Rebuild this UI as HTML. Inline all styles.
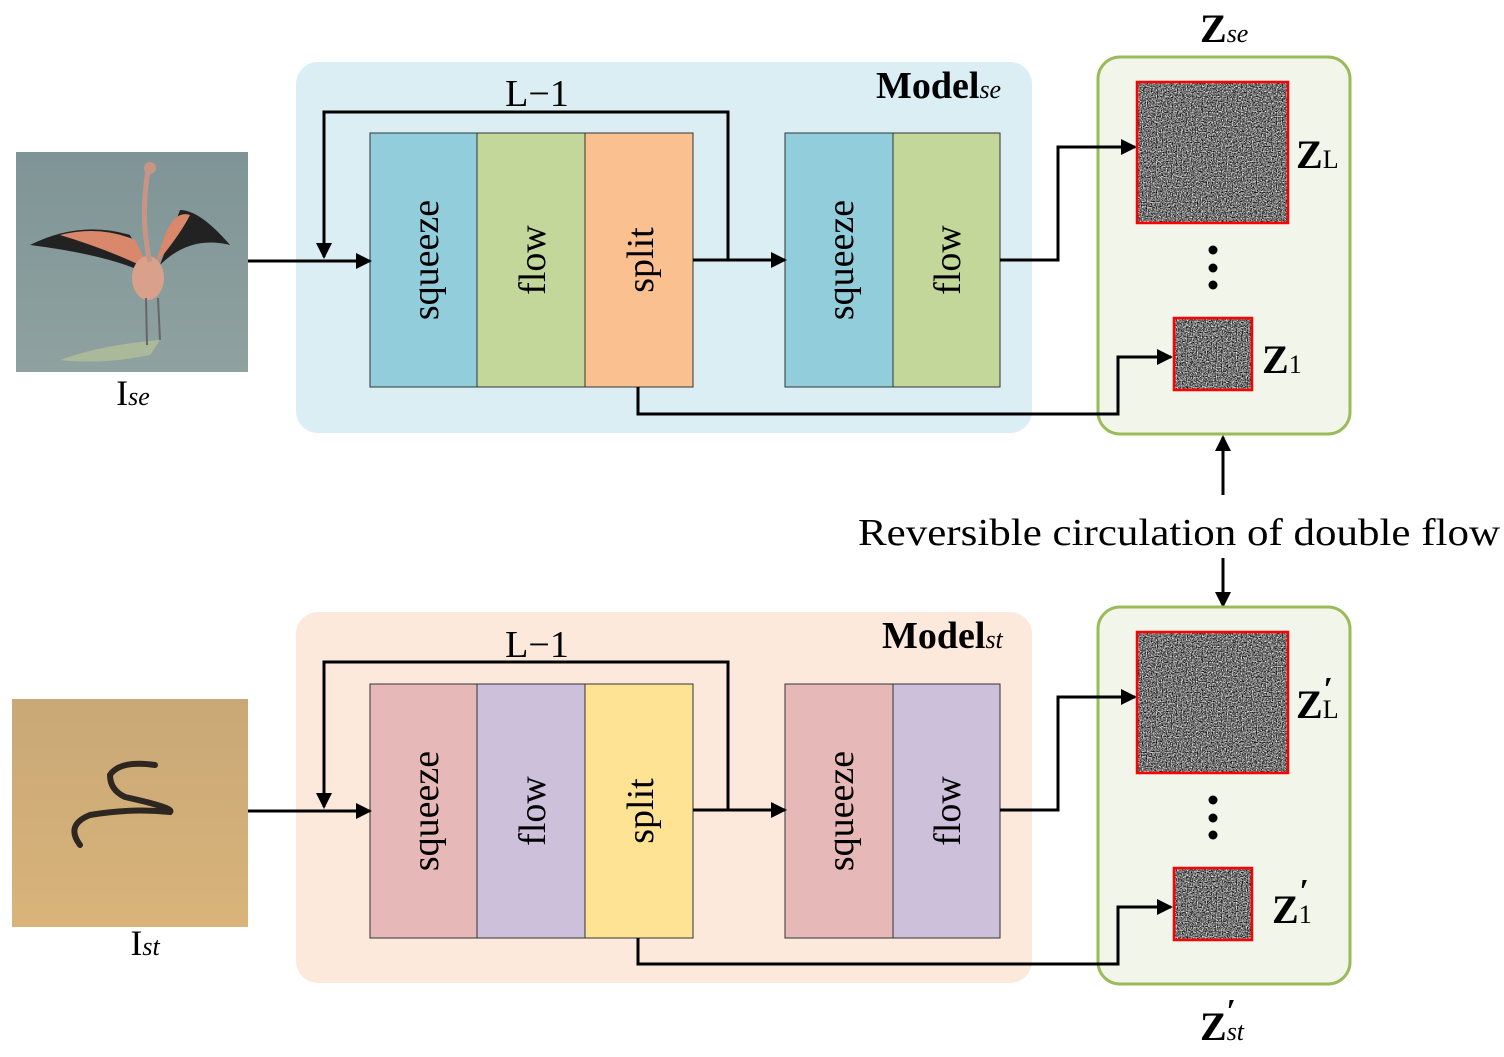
<!DOCTYPE html>
<html><head><meta charset="utf-8"><style>html,body{margin:0;padding:0;background:#fff}svg{display:block}text{font-family:"Liberation Serif",serif}</style></head><body>
<svg width="1504" height="1057" viewBox="0 0 1504 1057" xmlns="http://www.w3.org/2000/svg">
<defs>
<filter id="noise" x="0" y="0" width="100%" height="100%" color-interpolation-filters="sRGB"><feTurbulence type="fractalNoise" baseFrequency="0.8" numOctaves="2" seed="3"/><feColorMatrix type="matrix" values="1.3 1.3 0 0 -0.85  1.3 1.3 0 0 -0.85  1.3 1.3 0 0 -0.85  0 0 0 0 1"/></filter>
<marker id="ar" markerWidth="16" markerHeight="16" refX="14" refY="8" orient="auto" markerUnits="userSpaceOnUse"><path d="M0,0 L16,8 L0,16 z" fill="#000"/></marker>
<linearGradient id="sand" x1="0" y1="0" x2="0" y2="1"><stop offset="0" stop-color="#c9a877"/><stop offset="1" stop-color="#d9b47a"/></linearGradient>
<linearGradient id="water" x1="0" y1="0" x2="0" y2="1"><stop offset="0" stop-color="#7f9497"/><stop offset="1" stop-color="#8fa2a0"/></linearGradient>
</defs>

<rect x="16" y="152" width="232" height="220" fill="url(#water)"/>
<path d="M60,360 Q100,345 160,340 L150,355 Q100,365 60,360z" fill="#a9b99a"/>
<path d="M30,245 Q80,220 130,235 L150,275 Q110,255 30,245z" fill="#222"/>
<path d="M60,235 Q100,225 135,240 L150,270 Q110,250 60,235z" fill="#d9886c"/>
<path d="M230,245 Q200,210 180,210 L160,265 Q190,235 230,245z" fill="#222"/>
<path d="M190,215 Q175,210 165,235 L155,265 Q180,235 190,215z" fill="#d9886c"/>
<ellipse cx="148" cy="278" rx="16" ry="22" fill="#d9a08c"/>
<path d="M150,262 Q140,220 148,170" stroke="#c89585" stroke-width="5" fill="none"/>
<circle cx="150" cy="168" r="6" fill="#c89585"/>
<path d="M146,298 L147,345 M158,298 L160,340" stroke="#666" stroke-width="2"/>
<rect x="12" y="699" width="236" height="228" fill="url(#sand)"/>
<path d="M155,765 Q120,760 110,775 Q110,790 125,797 Q175,808 170,812 Q130,808 90,815 Q65,825 80,845" stroke="#2e2620" stroke-width="6" fill="none" stroke-linecap="round"/>
<text x="133" y="405" font-size="36" text-anchor="middle">I<tspan font-style="italic" font-size="26">se</tspan></text>
<text x="145" y="955" font-size="36" text-anchor="middle">I<tspan font-style="italic" font-size="26">st</tspan></text>

<g>
<rect x="296" y="62" width="736" height="371" rx="22" fill="#dbeef4"/>
<rect x="1098" y="57" width="252" height="377" rx="22" fill="#f1f5ea" stroke="#9bbb59" stroke-width="3"/>
<rect x="370" y="133" width="107" height="254" fill="#92cddc" stroke="#333" stroke-width="1"/>
<rect x="477" y="133" width="108" height="254" fill="#c4d79b" stroke="#333" stroke-width="1"/>
<rect x="585" y="133" width="108" height="254" fill="#fac090" stroke="#333" stroke-width="1"/>
<rect x="785" y="133" width="108" height="254" fill="#92cddc" stroke="#333" stroke-width="1"/>
<rect x="893" y="133" width="107" height="254" fill="#c4d79b" stroke="#333" stroke-width="1"/>
<g font-size="38" text-anchor="middle">
<text transform="translate(438,260) rotate(-90)">squeeze</text>
<text transform="translate(545,260) rotate(-90)">flow</text>
<text transform="translate(653,260) rotate(-90)">split</text>
<text transform="translate(853,260) rotate(-90)">squeeze</text>
<text transform="translate(960,260) rotate(-90)">flow</text>
</g>
<text x="537" y="106" font-size="38" text-anchor="middle">L−1</text>
<text x="876" y="98" font-size="38" font-weight="bold">Model<tspan font-style="italic" font-size="26" font-weight="normal">se</tspan></text>
<g stroke="#000" stroke-width="3" fill="none">
<path d="M728,260 V112 H324 V257" marker-end="url(#ar)"/>
<path d="M248,261 H370" marker-end="url(#ar)"/>
<path d="M693,260 H785" marker-end="url(#ar)"/>
<path d="M1000,260 H1058 V147 H1135" marker-end="url(#ar)"/>
<path d="M638,387 V414 H1118 V357 H1171" marker-end="url(#ar)"/>
</g>
<rect x="1137" y="82" width="151" height="141" fill="#777" filter="url(#noise)"/>
<rect x="1137" y="82" width="151" height="141" fill="none" stroke="#f00" stroke-width="2.5"/>
<rect x="1174" y="318" width="78" height="72" fill="#777" filter="url(#noise)"/>
<rect x="1174" y="318" width="78" height="72" fill="none" stroke="#f00" stroke-width="2.5"/>
<circle cx="1213" cy="250" r="4.5"/><circle cx="1213" cy="268" r="4.5"/><circle cx="1213" cy="285" r="4.5"/>
</g>
<text x="1200" y="42" font-size="40" font-weight="bold">Z<tspan font-style="italic" font-size="26" font-weight="normal">se</tspan></text>
<text x="1296" y="168" font-size="40" font-weight="bold">Z<tspan font-size="26" font-weight="normal">L</tspan></text>
<text x="1262" y="373" font-size="40" font-weight="bold">Z<tspan font-size="26" font-weight="normal">1</tspan></text>

<g stroke="#000" stroke-width="3" fill="none">
<path d="M1223,495 V437" marker-end="url(#ar)"/>
<path d="M1223,558 V606" marker-end="url(#ar)"/>
</g>
<text x="858" y="545" font-size="38" textLength="642" lengthAdjust="spacingAndGlyphs">Reversible circulation of double flow</text>

<g transform="translate(0,550)">
<rect x="296" y="62" width="736" height="371" rx="22" fill="#fce9dc"/>
<rect x="1098" y="57" width="252" height="377" rx="22" fill="#f1f5ea" stroke="#9bbb59" stroke-width="3"/>
<rect x="370" y="134" width="107" height="254" fill="#e6b9b8" stroke="#333" stroke-width="1"/>
<rect x="477" y="134" width="108" height="254" fill="#ccc0da" stroke="#333" stroke-width="1"/>
<rect x="585" y="134" width="108" height="254" fill="#fee395" stroke="#333" stroke-width="1"/>
<rect x="785" y="134" width="108" height="254" fill="#e6b9b8" stroke="#333" stroke-width="1"/>
<rect x="893" y="134" width="107" height="254" fill="#ccc0da" stroke="#333" stroke-width="1"/>
<g font-size="38" text-anchor="middle">
<text transform="translate(438,261) rotate(-90)">squeeze</text>
<text transform="translate(545,261) rotate(-90)">flow</text>
<text transform="translate(653,261) rotate(-90)">split</text>
<text transform="translate(853,261) rotate(-90)">squeeze</text>
<text transform="translate(960,261) rotate(-90)">flow</text>
</g>
<text x="537" y="107" font-size="38" text-anchor="middle">L−1</text>
<text x="882" y="98" font-size="38" font-weight="bold">Model<tspan font-style="italic" font-size="26" font-weight="normal">st</tspan></text>
<g stroke="#000" stroke-width="3" fill="none">
<path d="M728,260 V112 H324 V257" marker-end="url(#ar)"/>
<path d="M248,261 H370" marker-end="url(#ar)"/>
<path d="M693,260 H785" marker-end="url(#ar)"/>
<path d="M1000,260 H1058 V147 H1135" marker-end="url(#ar)"/>
<path d="M638,388 V414 H1118 V357 H1171" marker-end="url(#ar)"/>
</g>
<rect x="1137" y="82" width="151" height="141" fill="#777" filter="url(#noise)"/>
<rect x="1137" y="82" width="151" height="141" fill="none" stroke="#f00" stroke-width="2.5"/>
<rect x="1174" y="318" width="78" height="72" fill="#777" filter="url(#noise)"/>
<rect x="1174" y="318" width="78" height="72" fill="none" stroke="#f00" stroke-width="2.5"/>
<circle cx="1213" cy="250" r="4.5"/><circle cx="1213" cy="268" r="4.5"/><circle cx="1213" cy="285" r="4.5"/>
<text x="1296" y="168" font-size="40" font-weight="bold">Z<tspan font-size="26" font-weight="normal">L</tspan></text>
<text x="1272" y="373" font-size="40" font-weight="bold">Z<tspan font-size="26" font-weight="normal">1</tspan></text>
<text x="1323" y="150" font-size="34" font-weight="bold" font-style="italic">′</text>
<text x="1299" y="352" font-size="34" font-weight="bold" font-style="italic">′</text>
</g>
<text x="1200" y="1040" font-size="40" font-weight="bold">Z<tspan font-style="italic" font-size="26" font-weight="normal">st</tspan></text>
<text x="1226" y="1022" font-size="34" font-weight="bold" font-style="italic">′</text>
</svg>
</body></html>
